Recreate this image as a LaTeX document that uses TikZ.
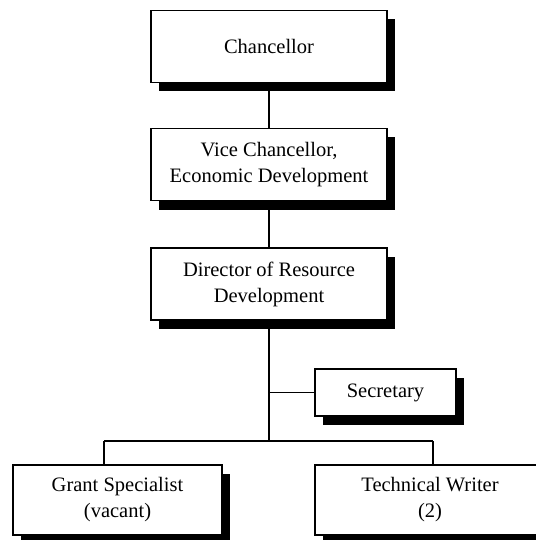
\documentclass[tikz,border=0pt]{standalone}
\usepackage{fontspec}
\setmainfont{Liberation Serif}
\usetikzlibrary{positioning, shadows}

\begin{document}
\begin{tikzpicture}[
  x=1pt, y=-1pt,
  font=\fontsize{20.5}{26}\selectfont,
  post/.style={draw, line width=1.3pt, fill=white, align=center, inner sep=0pt,
    minimum width=236pt, minimum height=72pt,
    general shadow={shadow xshift=8pt, shadow yshift=-9pt, fill=black}},
  link/.style={line width=1.3pt},
]
  \useasboundingbox[fill=white] (0,0) rectangle (535,540);
  % chain of command
  \node[post] (chan) at (269,46.5) {Chancellor};
  \node[post] (vice) at (269,164.5) {Vice Chancellor,\\Economic Development};
  \node[post] (dir)  at (269,284) {Director of Resource\\Development};
  % staff
  \node[post, minimum width=141pt, minimum height=47pt] (sec) at (385.5,392.5) {Secretary};
  \node[post, minimum width=209pt, minimum height=70pt] (grant) at (117.5,500) {Grant Specialist\\(vacant)};
  \node[post, minimum width=230pt, minimum height=70pt] (tech) at (430,500) {Technical Writer\\(2)};
  % junctions
  \coordinate (jl) at (104,441);
  \coordinate (jr) at (433,441);
  \coordinate (jsec) at (dir.south |- sec.west);
  \coordinate (jbar) at (dir.south |- jl);
  % connectors
  \foreach \a/\b in {chan/vice, vice/dir} \draw[link] (\a) -- (\b);
  \draw[link] (dir) -- (jbar);
  \draw[link] (jsec) -- (sec);
  \draw[link] (jl) -- (jr);
  \draw[link] (jl) -- (jl |- grant.north);
  \draw[link] (jr) -- (jr |- tech.north);
\end{tikzpicture}
\end{document}
